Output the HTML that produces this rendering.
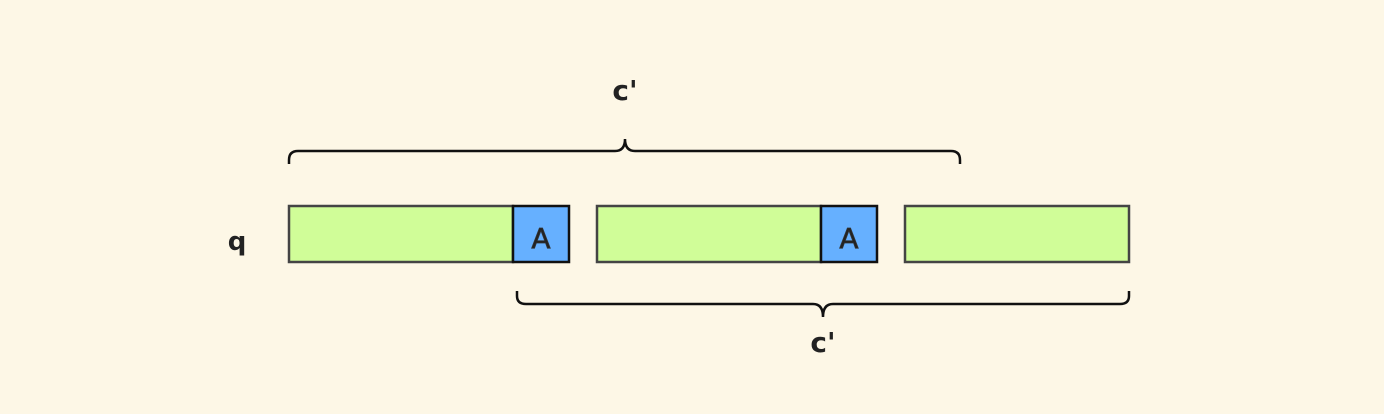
<!DOCTYPE html>
<html><head><style>
body{margin:0;background:#fdf7e6;}
svg{display:block}
text{font-family:"DejaVu Sans","Liberation Sans",sans-serif;font-weight:bold;fill:#222;}
</style></head><body>
<svg width="1384" height="414" xmlns="http://www.w3.org/2000/svg">
<rect width="1384" height="414" fill="#fdf7e6"/>
<g stroke="#444" stroke-width="2.5">
<rect x="289" y="206" width="224" height="56" fill="#d0fd98"/>
<rect x="597" y="206" width="224" height="56" fill="#d0fd98"/>
<rect x="905" y="206" width="224" height="56" fill="#d0fd98"/>
</g>
<g stroke="#111" stroke-width="2.5" fill="#66b0ff">
<rect x="513" y="206" width="56" height="56"/>
<rect x="821" y="206" width="56" height="56"/>
</g>
<text x="541" y="248" font-size="28" text-anchor="middle" fill="#333" style="font-weight:normal" stroke="#333" stroke-width="0.8">A</text>
<text x="849" y="248" font-size="28" text-anchor="middle" fill="#333" style="font-weight:normal" stroke="#333" stroke-width="0.8">A</text>
<text x="237" y="250" font-size="26" text-anchor="middle">q</text>
<text x="625" y="100" font-size="28" text-anchor="middle">c'</text>
<text x="823" y="352" font-size="28" text-anchor="middle">c'</text>
<g fill="none" stroke="#111" stroke-width="2.5">
<path d="M289 164 V160 Q289 151 298 151 H615 Q625 151 625 139 Q625 151 635 151 H951 Q960 151 960 160 V164"/>
<path d="M517 291 V296 Q517 304 526 304 H813 Q823 304 823 317 Q823 304 833 304 H1120 Q1129 304 1129 296 V291"/>
</g>
</svg>
</body></html>
